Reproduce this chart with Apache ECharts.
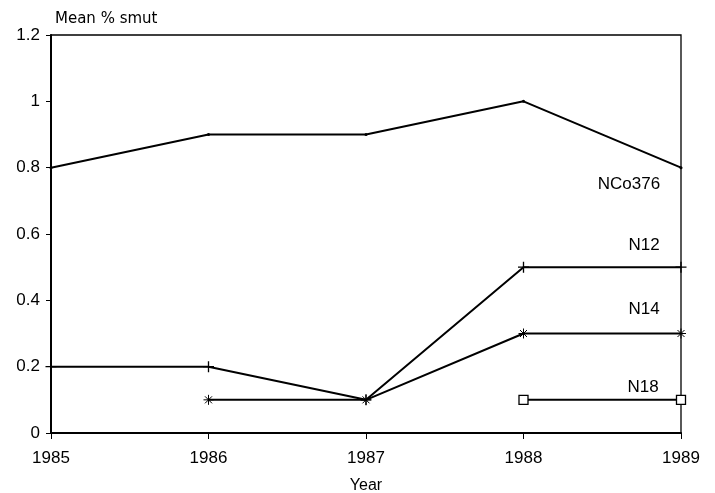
<!DOCTYPE html>
<html>
<head>
<meta charset="utf-8">
<script src="https://cdn.jsdelivr.net/npm/echarts@6/dist/echarts.min.js"></script>
<style>
  html, body { margin: 0; padding: 0; background: #fff; }
  #chart { width: 715px; height: 493px; }
</style>
</head>
<body>
<div id="chart"></div>
<script>
const years = ['1985', '1986', '1987', '1988', '1989']
const nco376 = [0.8, 0.9, 0.9, 1.0, 0.8]
const n12 = [0.2, 0.2, 0.1, 0.5, 0.5]
const n14 = [null, 0.1, 0.1, 0.3, 0.3]
const n18 = [null, null, null, 0.1, 0.1]

const font = 'Liberation Sans, Arial, sans-serif'

// name label on the last point of a series
function withEndLabel(data, name, pos, dist, dx, dy) {
  return data.map((v, i) => {
    if (i !== data.length - 1) return v
    return {
      value: v,
      label: {
        show: true,
        formatter: name,
        position: pos,
        distance: dist,
        offset: [dx, dy],
        color: '#000',
        fontSize: 17,
        fontFamily: font
      }
    }
  })
}

const plusPath = 'path://M-0.6,-5 L0.6,-5 L0.6,-0.6 L5,-0.6 L5,0.6 L0.6,0.6 L0.6,5 L-0.6,5 L-0.6,0.6 L-5,0.6 L-5,-0.6 L-0.6,-0.6 Z'
const starPath = 'path://M0,-5 L0,5 M-5,0 L5,0 M-3.5,-3.5 L3.5,3.5 M-3.5,3.5 L3.5,-3.5'

function line(name, data, symbol, size, itemStyle) {
  return {
    name: name,
    type: 'line',
    data: data,
    symbol: symbol,
    symbolSize: size,
    showAllSymbol: true,
    lineStyle: { color: '#000', width: 2 },
    itemStyle: itemStyle,
    emphasis: { disabled: true },
    animation: false
  }
}

const chart = echarts.init(document.getElementById('chart'))
chart.setOption({
  backgroundColor: '#fff',
  title: {
    text: 'Mean % smut',
    left: 50,
    top: 7,
    textStyle: { color: '#000', fontSize: 15, fontWeight: 'normal', fontFamily: 'DejaVu Sans, sans-serif' }
  },
  grid: {
    left: 51,
    right: 34,
    top: 35,
    bottom: 60,
    outerBoundsMode: 'none',
    containLabel: false,
    show: true,
    borderColor: '#000',
    borderWidth: 1.3
  },
  xAxis: {
    type: 'category',
    data: years,
    boundaryGap: false,
    name: 'Year',
    nameLocation: 'middle',
    nameGap: 45,
    nameTextStyle: { color: '#000', fontSize: 16, fontFamily: font },
    axisLine: { lineStyle: { color: '#000', width: 2 } },
    axisTick: { alignWithLabel: true, length: 6, lineStyle: { color: '#000' } },
    axisLabel: { color: '#000', fontSize: 17, fontFamily: font, margin: 17 },
    splitLine: { show: false }
  },
  yAxis: {
    type: 'value',
    min: 0,
    max: 1.2,
    interval: 0.2,
    axisLine: { show: true, lineStyle: { color: '#000', width: 2 } },
    axisTick: { show: true, length: 5, lineStyle: { color: '#000' } },
    axisLabel: {
      color: '#000',
      fontSize: 17,
      fontFamily: font,
      margin: 11,
      formatter: v => String(Math.round(v * 10) / 10)
    },
    splitLine: { show: false }
  },
  series: [
    line('NCo376', withEndLabel(nco376, 'NCo376', 'bottom', 7, -52, 0), 'circle', 3,
      { color: '#000' }),
    line('N12', withEndLabel(n12, 'N12', 'top', 16, -37, 8), plusPath, 11,
      { color: '#000' }),
    line('N14', withEndLabel(n14, 'N14', 'top', 18, -37, 10), starPath, 10,
      { color: 'none', borderColor: '#000', borderWidth: 1 }),
    line('N18', withEndLabel(n18, 'N18', 'top', 7, -38, 8), 'rect', 9,
      { color: '#fff', borderColor: '#000', borderWidth: 1.3 })
  ]
})
</script>
</body>
</html>
